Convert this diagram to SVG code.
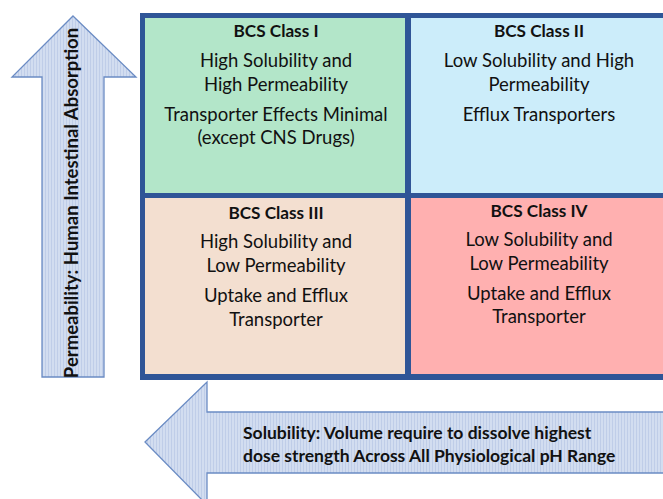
<svg xmlns="http://www.w3.org/2000/svg" width="663" height="499" viewBox="0 0 663 499">
<defs>
<pattern id="hatch" width="3" height="3" patternUnits="userSpaceOnUse">
<rect width="3" height="3" fill="#d2ddf0"/>
<rect width="1" height="3" fill="#bfcde8"/>
</pattern>
<style>
.arrow{fill:url(#hatch);stroke:#6b8cc4;stroke-width:1.3}
.t{font-family:Lato,"Open Sans",sans-serif;font-size:18.5px;fill:#111;text-anchor:middle}
.h{font-family:Lato,"Open Sans",sans-serif;font-size:17.2px;font-weight:bold;fill:#111;text-anchor:middle}
.a{font-family:Lato,"Open Sans",sans-serif;font-size:17.5px;font-weight:bold;fill:#111}
</style>
</defs>
<g id="permeability-arrow">
<polygon class="arrow" points="73,16 136,77 104,77 104,377 42,377 42,77 12,77"/>
<text class="a" style="font-size:18.5px" transform="translate(78,203) rotate(-90)" text-anchor="middle">Permeability: Human Intestinal Absorption</text>
</g>
<g id="solubility-arrow">
<polygon class="arrow" points="145,442 207,382 207,412 670,412 670,473 207,473 207,505"/>
<text class="a" x="243" y="439">Solubility: Volume require to dissolve highest</text>
<text class="a" x="243" y="462">dose strength Across All Physiological pH Range</text>
</g>
<g id="grid">
<rect x="140" y="13" width="540" height="367" fill="#2f5597"/>
</g>
<g id="class-1">
<rect x="145" y="18" width="260" height="175" fill="#b3e6c9"/>
<text class="h" x="276" y="37">BCS Class I</text>
<text class="t" x="276" y="67">High Solubility and</text>
<text class="t" x="276" y="91">High Permeability</text>
<text class="t" x="276" y="121">Transporter Effects Minimal</text>
<text class="t" x="276" y="144">(except CNS Drugs)</text>
</g>
<g id="class-2">
<rect x="411" y="18" width="270" height="175" fill="#ccedfa"/>
<text class="h" x="539" y="37">BCS Class II</text>
<text class="t" x="539" y="67">Low Solubility and High</text>
<text class="t" x="539" y="91">Permeability</text>
<text class="t" x="539" y="121">Efflux Transporters</text>
</g>
<g id="class-3">
<rect x="145" y="198" width="260" height="176" fill="#f3dfd0"/>
<text class="h" x="276" y="219">BCS Class III</text>
<text class="t" x="276" y="248">High Solubility and</text>
<text class="t" x="276" y="272">Low Permeability</text>
<text class="t" x="276" y="302">Uptake and Efflux</text>
<text class="t" x="276" y="326">Transporter</text>
</g>
<g id="class-4">
<rect x="411" y="198" width="270" height="176" fill="#ffb0b0"/>
<text class="h" x="539" y="217">BCS Class IV</text>
<text class="t" x="539" y="246">Low Solubility and</text>
<text class="t" x="539" y="270">Low Permeability</text>
<text class="t" x="539" y="300">Uptake and Efflux</text>
<text class="t" x="539" y="323">Transporter</text>
</g>
</svg>
